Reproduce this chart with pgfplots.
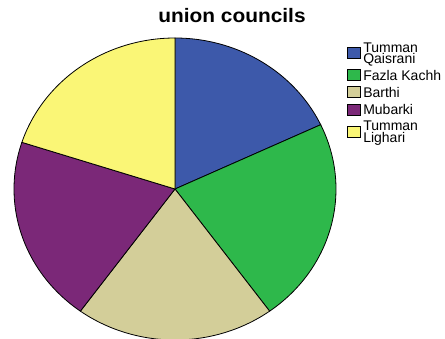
\documentclass[border=0pt]{standalone}
\usepackage{fontspec}
\setmainfont{Liberation Sans}
\usepackage{graphicx}
\usepackage{pgfplots}
\pgfplotsset{compat=1.18}
\usepackage{pgfplotstable}

\definecolor{c0}{RGB}{61,89,170}
\definecolor{c1}{RGB}{46,184,75}
\definecolor{c2}{RGB}{211,206,153}
\definecolor{c3}{RGB}{123,40,120}
\definecolor{c4}{RGB}{250,246,118}

\pgfplotstableread[col sep=comma]{
label,value
Tumman Qaisrani,18
Fazla Kachh,22
Barthi,20
Mubarki,20
Tumman Lighari,20
}\pietable

\begin{document}
\begin{tikzpicture}
\path[use as bounding box] (0,0) rectangle (445pt,339pt);
\begin{axis}[
  at={(175pt,150pt)}, anchor=center,
  scale only axis, width=322pt, height=302pt,
  xmin=-1, xmax=1, ymin=-1, ymax=1,
  hide axis, clip=false,
  title={\scalebox{1.07}[1]{\fontsize{19.5}{20}\selectfont\bfseries union councils}},
  title style={at={(0.677,1.0298)}, anchor=base, inner sep=0pt},
  legend style={at={(1.035,0.986)}, anchor=north west, draw=none, fill=none,
    inner sep=0pt, row sep=5.5pt, column sep=2.5pt,
    font=\fontsize{14}{11.5}\selectfont,
    nodes={inner sep=0pt, align=left, text depth=0pt}},
  legend cell align=left,
  legend image code/.code={\draw[#1,draw=black,line width=0.8pt] (0pt,-5.5pt) rectangle (12.5pt,5.5pt);},
]
\pgfmathsetmacro\cum{0}
\pgfplotsforeachungrouped \i in {0,...,4}{%
  \pgfplotstablegetelem{\i}{value}\of\pietable
  \let\val\pgfplotsretval
  \pgfmathsetmacro\angA{90-3.6*\cum}%
  \pgfmathsetmacro\cum{\cum+\val}%
  \pgfmathsetmacro\angB{90-3.6*\cum}%
  \edef\temp{\noexpand\addplot[draw=black,line width=0.8pt,fill=c\i,domain=\angB:\angA,samples=90] ({cos(x)},{sin(x)}) -- (0,0) -- cycle;}%
  \temp
}
\legend{{Tumman\\Qaisrani},Fazla Kachh,Barthi,Mubarki,{Tumman\\Lighari}}
\end{axis}
\end{tikzpicture}
\end{document}
